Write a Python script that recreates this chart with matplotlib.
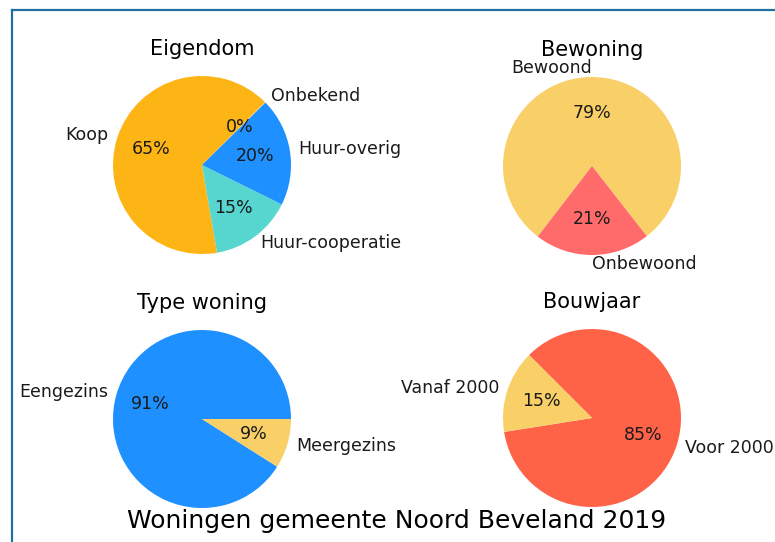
import matplotlib
matplotlib.use('Agg')
import matplotlib.pyplot as plt
from matplotlib.lines import Line2D

# data (percentages)
eig_labels = ['Koop', 'Huur-cooperatie', 'Huur-overig', 'Onbekend']
eig_values = [65.2, 15.0, 19.7, 0.1]
eig_colors = ['#FDB415', '#57D6CF', '#1E90FF', '#F9D068']

bew_labels = ['Bewoond', 'Onbewoond']
bew_values = [79, 21]
bew_colors = ['#F9D068', '#FF6B6B']

type_labels = ['Eengezins', 'Meergezins']
type_values = [91, 9]
type_colors = ['#1E90FF', '#F9D068']

bouw_labels = ['Voor 2000', 'Vanaf 2000']
bouw_values = [85, 15]
bouw_colors = ['#FF6347', '#F9D068']

W, H = 775, 542
R = 89  # pie radius in px
fig = plt.figure(figsize=(W / 100, H / 100), dpi=100)


def pie_axes(cx, cy):
    # square axes of 2.5 radii around the pie centre (pixel coords from top-left)
    s = 2.5 * R
    return fig.add_axes([(cx - s / 2) / W, (H - cy - s / 2) / H, s / W, s / H])


charts = [
    (202, 165, 'Eigendom', eig_values, eig_labels, eig_colors, 45),
    (592, 166, 'Bewoning', bew_values, bew_labels, bew_colors, -52),
    (202, 419, 'Type woning', type_values, type_labels, type_colors, 0),
    (592, 418, 'Bouwjaar', bouw_values, bouw_labels, bouw_colors, 189),
]

for cx, cy, title, vals, labs, cols, start in charts:
    ax = pie_axes(cx, cy)
    ax.pie(vals, labels=labs, colors=cols, startangle=start, autopct='%1.0f%%',
           textprops={'fontsize': 12.5, 'color': '#1a1a1a'})
    ax.set_aspect('equal')
    ax.set_title(title, fontsize=15, pad=0, y=0.995)

fig.text(396.5 / W, 14 / H, 'Woningen gemeente Noord Beveland 2019',
         fontsize=18, ha='center', va='baseline')

# blue frame of the screenshot (top and left edges)
frame_col = '#1F6FA3'
fig.add_artist(Line2D([12 / W, 1.0], [1 - 10 / H, 1 - 10 / H], color=frame_col, lw=1.6,
                      transform=fig.transFigure))
fig.add_artist(Line2D([12 / W, 12 / W], [0, 1 - 10 / H], color=frame_col, lw=1.6,
                      transform=fig.transFigure))

fig.savefig('out.png', dpi=100)
